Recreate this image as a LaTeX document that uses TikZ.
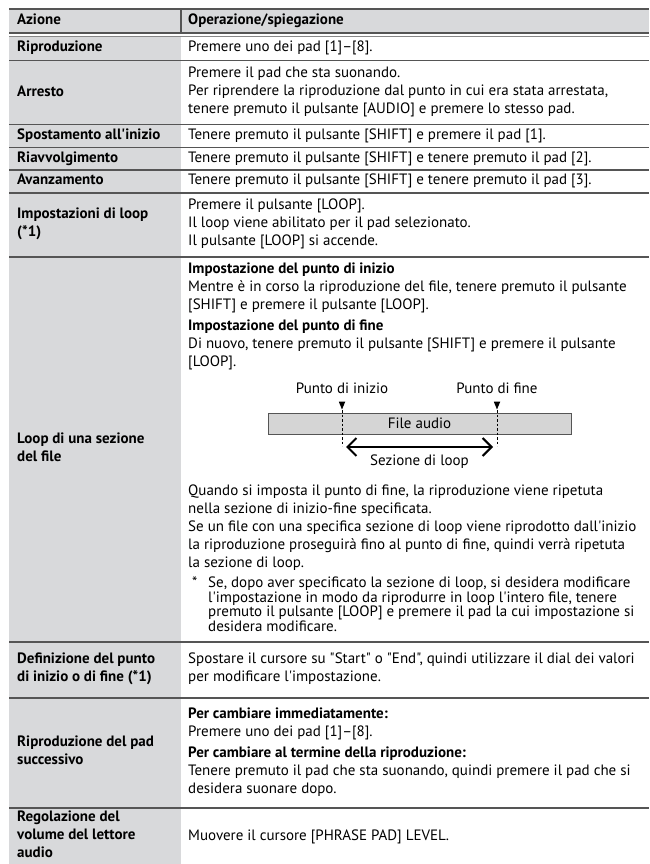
\documentclass[tikz,border=0pt]{standalone}
\usepackage{fontspec}
\usepackage{tikz}
\usetikzlibrary{arrows.meta,shapes.geometric}
\newfontfamily\tabfont{PT Sans}
\definecolor{cellgray}{HTML}{D8D9DB}
\definecolor{bargray}{HTML}{D5D5D5}
\definecolor{rulegray}{HTML}{555555}
\tikzset{
  rule/.style={draw=rulegray, line width=1.1pt},
  thinrule/.style={draw=rulegray!70, line width=0.8pt},
  txt/.style={anchor=west, inner sep=0pt, align=left,
    font=\tabfont\fontsize{15}{18}\selectfont,
    execute at begin node=\strut, execute at end node=\strut},
  lab/.style={txt, font=\tabfont\bfseries\fontsize{15}{18}\selectfont},
  note/.style={txt, font=\tabfont\fontsize{15}{14.6}\selectfont},
  bar/.style={draw=rulegray, fill=bargray, line width=0.8pt, inner sep=0pt,
    minimum width=303pt, minimum height=21pt, font=\tabfont\fontsize{15}{18}\selectfont},
  pointer/.style={isosceles triangle, shape border rotate=-90, fill=black,
    inner sep=0pt, minimum width=6.5pt, minimum height=5.5pt},
  cut/.style={draw, line width=0.6pt, dash pattern=on 2.5pt off 2pt},
  span/.style={draw, line width=2pt,
    {Straight Barb[length=9pt,width=18pt]}-{Straight Barb[length=9pt,width=18pt]}}
}

\begin{document}
\begin{tikzpicture}[x=1pt,y=-1pt]
  \useasboundingbox (0,0) rectangle (649,864);

  % shaded header and first column
  \fill[cellgray] (9,9) rectangle (649,33);
  \fill[cellgray] (9,36) rectangle (181,864);

  % rules
  \draw[rule] (9,9) -- (649,9);
  \draw[rule] (9,33) -- (649,33);
  \draw[thinrule] (9,36) -- (649,36);
  \draw[rule] (181,9) -- (181,33);
  \foreach \y in {60.5,124.5,147.5,170,193,257,642,698,808}
    \draw[rule] (9,\y) -- (649,\y);

  % header
  \node[lab] (hAct) at (17,21) {Azione};
  \node[lab] (hOp) at (188,21) {Operazione/spiegazione};

  % simple rows
  \node[lab] (aPlay) at (17,48.25) {Riproduzione};
  \node[txt] (oPlay) at (188,48.25) {Premere uno dei pad [1]–[8].};

  \node[lab] (aStop) at (17,92.5) {Arresto};
  \node[txt] (oStop) at (188,92.5) {Premere il pad che sta suonando.\\
    Per riprendere la riproduzione dal punto in cui era stata arrestata,\\
    tenere premuto il pulsante [AUDIO] e premere lo stesso pad.};

  \node[lab] (aTop) at (17,136) {Spostamento all'inizio};
  \node[txt] (oTop) at (188,136) {Tenere premuto il pulsante [SHIFT] e premere il pad [1].};

  \node[lab] (aRew) at (17,158.75) {Riavvolgimento};
  \node[txt] (oRew) at (188,158.75) {Tenere premuto il pulsante [SHIFT] e tenere premuto il pad [2].};

  \node[lab] (aFwd) at (17,181.25) {Avanzamento};
  \node[txt] (oFwd) at (188,181.25) {Tenere premuto il pulsante [SHIFT] e tenere premuto il pad [3].};

  \node[lab] (aLoop) at (17,225) {Impostazioni di loop\\(*1)};
  \node[txt] (oLoop) at (188,225) {Premere il pulsante [LOOP].\\
    Il loop viene abilitato per il pad selezionato.\\
    Il pulsante [LOOP] si accende.};

  % section loop
  \node[lab] (aSec) at (17,449.5) {Loop di una sezione\\del file};
  \node[txt] (oSecA) at (188,317.5) {{\bfseries Impostazione del punto di inizio}\\
    Mentre è in corso la riproduzione del file, tenere premuto il pulsante\\{}[SHIFT] e premere il pulsante [LOOP].\\[3pt]
    {\bfseries Impostazione del punto di fine}\\
    Di nuovo, tenere premuto il pulsante [SHIFT] e premere il pulsante\\{}[LOOP].};

  \node[bar] (file) at (419.5,423.5) {File audio};
  \node[pointer, anchor=apex] (tStart) at (342,410) {};
  \node[pointer, anchor=apex] (tEnd) at (497,410) {};
  \node[txt, anchor=center] (lStart) at (342,390) {Punto di inizio};
  \node[txt, anchor=center] (lEnd) at (497,390) {Punto di fine};
  \coordinate (dStart) at (342,446);
  \coordinate (dEnd) at (497,446);
  \draw[cut] (tStart.apex) -- (dStart);
  \draw[cut] (tEnd.apex) -- (dEnd);
  \coordinate (sL) at (346,447);
  \coordinate (sR) at (493,447);
  \draw[span] (sL) -- (sR);
  \node[txt, anchor=center] (lSpan) at (419.5,462) {Sezione di loop};

  \node[txt] (oSecB) at (188,528.5) {Quando si imposta il punto di fine, la riproduzione viene ripetuta\\
    nella sezione di inizio-fine specificata.\\
    Se un file con una specifica sezione di loop viene riprodotto dall'inizio\\
    la riproduzione proseguirà fino al punto di fine, quindi verrà ripetuta\\
    la sezione di loop.};
  \node[note] (star) at (192,584.5) {*};
  \node[note] (oSecC) at (208,606.5) {Se, dopo aver specificato la sezione di loop, si desidera modificare\\
    l'impostazione in modo da riprodurre in loop l'intero file, tenere\\
    premuto il pulsante [LOOP] e premere il pad la cui impostazione si\\
    desidera modificare.};

  % remaining rows
  \node[lab] (aPts) at (17,670) {Definizione del punto\\di inizio o di fine (*1)};
  \node[txt] (oPts) at (188,670) {Spostare il cursore su "Start" o "End", quindi utilizzare il dial dei valori\\
    per modificare l'impostazione.};

  \node[lab] (aNext) at (17,753) {Riproduzione del pad\\successivo};
  \node[txt] (oNext) at (188,753) {{\bfseries Per cambiare immediatamente:}\\
    Premere uno dei pad [1]–[8].\\[3pt]
    {\bfseries Per cambiare al termine della riproduzione:}\\
    Tenere premuto il pad che sta suonando, quindi premere il pad che si\\
    desidera suonare dopo.};

  \node[lab] (aVol) at (17,837) {Regolazione del\\volume del lettore\\audio};
  \node[txt] (oVol) at (188,837) {Muovere il cursore [PHRASE PAD] LEVEL.};
\end{tikzpicture}
\end{document}
